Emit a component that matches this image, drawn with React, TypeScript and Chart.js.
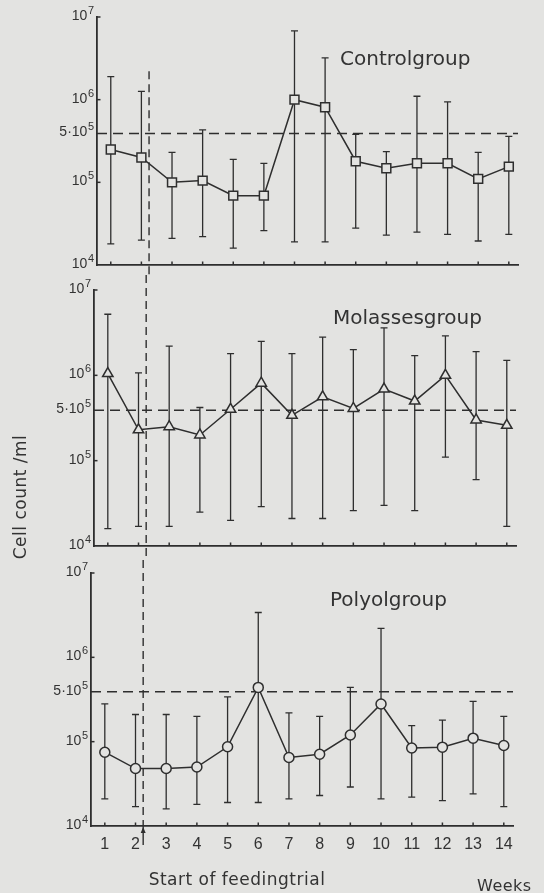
import React, { useEffect, useRef } from 'react';
import { Chart, registerables } from 'chart.js';

Chart.register(...registerables);

// ---------- data ----------
const WEEKS = [1, 2, 3, 4, 5, 6, 7, 8, 9, 10, 11, 12, 13, 14];
const WEEK_LABELS = ['1', '2', '3', '4', '5', '6', '7', '8', '9', '10', '11', '12', '13', '14'];

const Y_TICK_VALUES = [1e4, 1e5, 3.9e5, 1e6, 1e7];
const Y_TICK_BASES = ['10', '10', '5·10', '10', '10'];
const Y_TICK_EXPONENTS = ['4', '5', '5', '6', '7'];
const Y_STUB_VALUES = [1e5, 1e6, 1e7];

// the dashed "5·10⁵" level, as drawn in the figure
const REFERENCE_LEVEL = 3.9e5;
// start of the feeding trial (vertical dashed line)
const FEED_START_WEEK = 2.25;
const FEED_LINE_TOP = 2.2e6;

const CONTROL_MEAN = [2.5e5, 2.0e5, 1.0e5, 1.05e5, 6.9e4, 6.9e4, 1.0e6, 8.1e5, 1.8e5, 1.48e5, 1.7e5, 1.7e5, 1.1e5, 1.55e5];
const CONTROL_HIGH = [1.9e6, 1.26e6, 2.3e5, 4.3e5, 1.9e5, 1.7e5, 6.8e6, 3.2e6, 3.8e5, 2.35e5, 1.1e6, 9.4e5, 2.3e5, 3.6e5];
const CONTROL_LOW = [1.8e4, 2.0e4, 2.1e4, 2.2e4, 1.6e4, 2.6e4, 1.9e4, 1.9e4, 2.8e4, 2.3e4, 2.5e4, 2.35e4, 1.95e4, 2.35e4];

const MOLASSES_MEAN = [1.05e6, 2.3e5, 2.5e5, 2.0e5, 4.0e5, 8.1e5, 3.4e5, 5.6e5, 4.1e5, 6.9e5, 5.0e5, 1.0e6, 3.0e5, 2.6e5];
const MOLASSES_HIGH = [5.2e6, 1.07e6, 2.2e6, 4.2e5, 1.8e6, 2.5e6, 1.8e6, 2.8e6, 2.0e6, 3.6e6, 1.7e6, 2.9e6, 1.9e6, 1.5e6];
const MOLASSES_LOW = [1.6e4, 1.7e4, 1.7e4, 2.5e4, 2.0e4, 2.9e4, 2.1e4, 2.1e4, 2.6e4, 3.0e4, 2.6e4, 1.1e5, 6.0e4, 1.7e4];

const POLYOL_MEAN = [7.5e4, 4.8e4, 4.8e4, 5.0e4, 8.7e4, 4.4e5, 6.5e4, 7.1e4, 1.2e5, 2.8e5, 8.4e4, 8.6e4, 1.1e5, 9.0e4];
const POLYOL_HIGH = [2.8e5, 2.1e5, 2.1e5, 2.0e5, 3.4e5, 3.4e6, 2.2e5, 2.0e5, 4.4e5, 2.2e6, 1.55e5, 1.8e5, 3.0e5, 2.0e5];
const POLYOL_LOW = [2.1e4, 1.7e4, 1.6e4, 1.8e4, 1.9e4, 1.9e4, 2.1e4, 2.3e4, 2.9e4, 2.1e4, 2.2e4, 2.0e4, 2.4e4, 1.7e4];

// ---------- styles ----------
const INK = '#2e2e2e';
const TEXT = '#333333';
const PAPER = '#e3e3e1';
const WORD_FONT = '"DejaVu Sans", sans-serif';
const NUM_FONT = '"Liberation Sans", Arial, sans-serif';
const W = 544;

type Spec = {
  top: number;
  height: number;
  left: number;
  right: number;
  plotTop: number;
  plotBottom: number;
  mean: number[];
  high: number[];
  low: number[];
  pointStyle: string;
  radius: number;
  title: string;
  titleX: number;
  titleY: number;
  showWeekLabels: boolean;
  feedFromTop: boolean;
  feedToAxis: boolean;
  extra?: (ctx: CanvasRenderingContext2D) => void;
};

function drawYLabel(ctx: CanvasRenderingContext2D, xRight: number, py: number, base: string, exp: string) {
  ctx.textBaseline = 'alphabetic';
  ctx.textAlign = 'right';
  ctx.font = `11px ${NUM_FONT}`;
  const ew = ctx.measureText(exp).width;
  ctx.fillText(exp, xRight, py - 3);
  ctx.font = `14px ${NUM_FONT}`;
  ctx.fillText(base, xRight - ew - 0.5, py + 3);
}

function Panel({ spec }: { spec: Spec }) {
  const ref = useRef<HTMLCanvasElement | null>(null);
  useEffect(() => {
    if (!ref.current) return;
    const s = spec;
    const overlay = {
      id: 'overlay',
      beforeDatasetsDraw(chart: any) {
        const { ctx, chartArea } = chart;
        const x = chart.scales.x;
        const y = chart.scales.y;
        ctx.save();
        ctx.strokeStyle = INK;
        ctx.fillStyle = INK;
        // reference level
        ctx.lineWidth = 1.4;
        ctx.setLineDash([10, 6]);
        const yr = y.getPixelForValue(REFERENCE_LEVEL);
        ctx.beginPath();
        ctx.moveTo(chartArea.left, yr);
        ctx.lineTo(chartArea.right, yr);
        ctx.stroke();
        // start of feeding trial
        ctx.setLineDash([8, 5]);
        const xf = x.getPixelForValue(FEED_START_WEEK);
        const y0 = s.feedFromTop ? 0 : y.getPixelForValue(FEED_LINE_TOP);
        const y1 = s.feedToAxis ? chartArea.bottom : chart.height;
        ctx.beginPath();
        ctx.moveTo(xf, y0);
        ctx.lineTo(xf, y1);
        ctx.stroke();
        ctx.setLineDash([]);
        if (s.feedToAxis) {
          ctx.beginPath();
          ctx.moveTo(xf, chartArea.bottom);
          ctx.lineTo(xf, chartArea.bottom + 19);
          ctx.stroke();
          ctx.beginPath();
          ctx.moveTo(xf, chartArea.bottom + 1);
          ctx.lineTo(xf - 2.5, chartArea.bottom + 7);
          ctx.lineTo(xf + 2.5, chartArea.bottom + 7);
          ctx.closePath();
          ctx.fill();
        }
        // error bars
        ctx.lineWidth = 1.3;
        WEEKS.forEach((w, i) => {
          const px = x.getPixelForValue(w);
          const ph = y.getPixelForValue(s.high[i]);
          const pl = y.getPixelForValue(s.low[i]);
          ctx.beginPath();
          ctx.moveTo(px, ph);
          ctx.lineTo(px, pl);
          ctx.moveTo(px - 3.5, ph);
          ctx.lineTo(px + 3.5, ph);
          ctx.moveTo(px - 3.5, pl);
          ctx.lineTo(px + 3.5, pl);
          ctx.stroke();
        });
        // axis tick stubs
        ctx.lineWidth = 1.5;
        WEEKS.forEach((w) => {
          const px = x.getPixelForValue(w);
          ctx.beginPath();
          ctx.moveTo(px, chartArea.bottom);
          ctx.lineTo(px, chartArea.bottom - 3.5);
          ctx.stroke();
        });
        Y_STUB_VALUES.forEach((v) => {
          const py = y.getPixelForValue(v);
          ctx.beginPath();
          ctx.moveTo(chartArea.left, py);
          ctx.lineTo(chartArea.left + 3.5, py);
          ctx.stroke();
        });
        ctx.restore();
      },
      afterDraw(chart: any) {
        const { ctx, chartArea } = chart;
        const y = chart.scales.y;
        ctx.save();
        ctx.fillStyle = TEXT;
        Y_TICK_VALUES.forEach((v, i) => {
          drawYLabel(ctx, chartArea.left - 3, y.getPixelForValue(v), Y_TICK_BASES[i], Y_TICK_EXPONENTS[i]);
        });
        ctx.textAlign = 'left';
        ctx.textBaseline = 'alphabetic';
        ctx.font = `20px ${WORD_FONT}`;
        ctx.fillText(s.title, s.titleX, s.titleY);
        if (s.extra) s.extra(ctx);
        ctx.restore();
      },
    };

    const chart = new Chart(ref.current, {
      type: 'line',
      data: {
        datasets: [
          {
            data: WEEKS.map((w, i) => ({ x: w, y: s.mean[i] })),
            borderColor: INK,
            borderWidth: 1.5,
            pointStyle: s.pointStyle as any,
            pointRadius: s.radius,
            pointBackgroundColor: PAPER,
            pointBorderColor: INK,
            pointBorderWidth: 1.5,
            tension: 0,
            clip: false as any,
          },
        ],
      },
      options: {
        animation: false,
        responsive: false,
        devicePixelRatio: 1,
        events: [],
        layout: { padding: { top: s.plotTop, right: W - s.right, left: 0, bottom: 0 } },
        plugins: { legend: { display: false }, tooltip: { enabled: false }, title: { display: false } },
        scales: {
          x: {
            type: 'linear',
            min: 0.55,
            max: 14.3,
            afterBuildTicks: (sc: any) => {
              sc.ticks = WEEKS.map((v) => ({ value: v }));
            },
            afterFit: (sc: any) => {
              sc.height = s.height - s.plotBottom;
            },
            grid: { display: false, drawTicks: false },
            border: { display: true, color: INK, width: 1.8 },
            ticks: {
              display: s.showWeekLabels,
              autoSkip: false,
              maxRotation: 0,
              padding: 9,
              color: TEXT,
              font: { family: NUM_FONT, size: 16 },
              callback: (_v: any, i: number) => WEEK_LABELS[i],
            },
          },
          y: {
            type: 'logarithmic',
            min: 1e4,
            max: 1e7,
            afterFit: (sc: any) => {
              sc.width = s.left;
            },
            grid: { display: false, drawTicks: false },
            border: { display: true, color: INK, width: 1.8 },
            ticks: { display: false },
          },
        },
      },
      plugins: [overlay],
    });
    return () => chart.destroy();
  }, [spec]);
  return (
    <canvas
      ref={ref}
      width={W}
      height={spec.height}
      style={{ position: 'absolute', left: 0, top: spec.top, width: W, height: spec.height, display: 'block' }}
    />
  );
}

const SPECS: Spec[] = [
  {
    top: 0, height: 275, left: 97, right: 518, plotTop: 17, plotBottom: 265,
    mean: CONTROL_MEAN, high: CONTROL_HIGH, low: CONTROL_LOW,
    pointStyle: 'rect', radius: 6.3,
    title: 'Controlgroup', titleX: 340, titleY: 65,
    showWeekLabels: false, feedFromTop: false, feedToAxis: false,
  },
  {
    top: 275, height: 285, left: 94, right: 516, plotTop: 15, plotBottom: 271,
    mean: MOLASSES_MEAN, high: MOLASSES_HIGH, low: MOLASSES_LOW,
    pointStyle: 'triangle', radius: 6,
    title: 'Molassesgroup', titleX: 333, titleY: 49,
    showWeekLabels: false, feedFromTop: true, feedToAxis: false,
    extra: (ctx) => {
      ctx.save();
      ctx.translate(22, 222);
      ctx.rotate(-Math.PI / 2);
      ctx.textAlign = 'center';
      ctx.textBaseline = 'middle';
      ctx.font = `17px ${WORD_FONT}`;
      (ctx as any).letterSpacing = '0.5px';
      ctx.fillText('Cell count /ml', 0, 0);
      ctx.restore();
    },
  },
  {
    top: 560, height: 333, left: 91, right: 513, plotTop: 13, plotBottom: 266,
    mean: POLYOL_MEAN, high: POLYOL_HIGH, low: POLYOL_LOW,
    pointStyle: 'circle', radius: 5,
    title: 'Polyolgroup', titleX: 330, titleY: 46,
    showWeekLabels: true, feedFromTop: true, feedToAxis: true,
    extra: (ctx) => {
      ctx.save();
      ctx.font = `17px ${WORD_FONT}`;
      (ctx as any).letterSpacing = '0.5px';
      ctx.textAlign = 'center';
      ctx.textBaseline = 'alphabetic';
      ctx.fillText('Start of feedingtrial', 237, 325);
      ctx.font = `16px ${WORD_FONT}`;
      ctx.textAlign = 'left';
      ctx.fillText('Weeks', 477, 331);
      ctx.restore();
    },
  },
];

export default function App() {
  return (
    <div style={{ position: 'absolute', left: 0, top: 0, width: W, height: 893, background: PAPER, overflow: 'hidden' }}>
      {SPECS.map((sp, i) => (
        <Panel key={i} spec={sp} />
      ))}
    </div>
  );
}
